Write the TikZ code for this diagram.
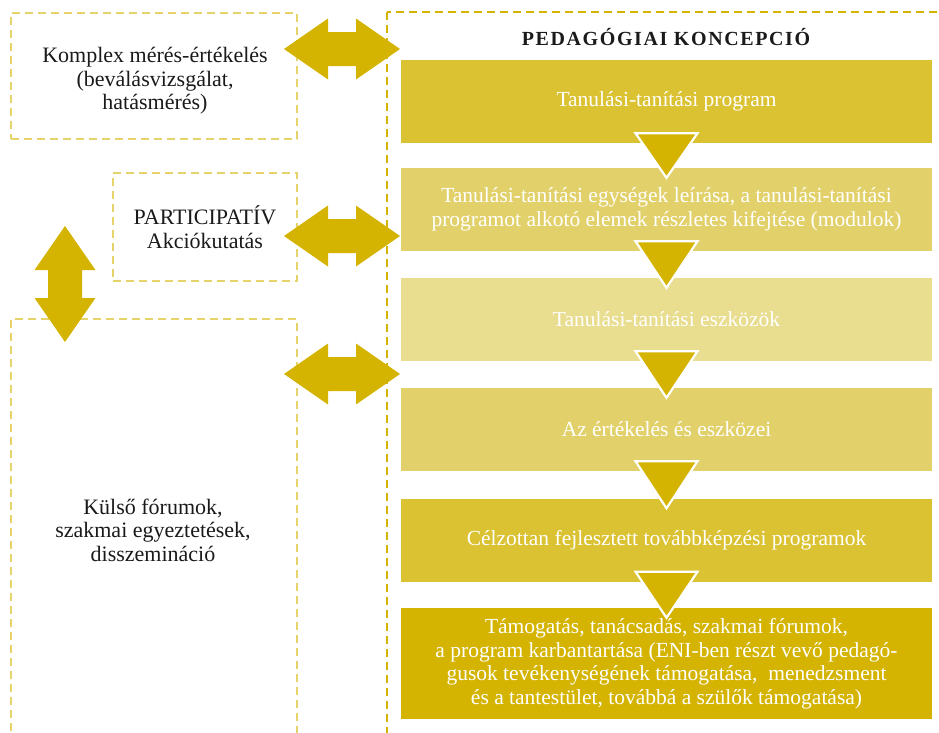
\documentclass[tikz,border=0pt]{standalone}
\usepackage{fontspec}
\setmainfont{Liberation Serif}
\usetikzlibrary{calc}
\definecolor{gold}{HTML}{D4B400}
\definecolor{lightdash}{HTML}{E6D36C}
\definecolor{cA}{HTML}{DBC232}
\definecolor{cB}{HTML}{E2D16A}
\definecolor{cC}{HTML}{E9DD8F}
\definecolor{ink}{HTML}{1A1A1A}
\begin{document}
\begin{tikzpicture}[x=1pt,y=-1pt,
  every node/.style={font=\fontsize{21.5}{23.5}\selectfont, align=center, inner sep=0pt},
  lbox/.style={draw=lightdash, line width=2.5pt, dash pattern=on 8pt off 5pt},
  bigbox/.style={draw=gold, line width=2.5pt, dash pattern=on 8pt off 5pt},
  stepbox/.style={fill=#1, minimum width=531pt, minimum height=83pt, text=white},
  ltext/.style={text=ink, font=\fontsize{22}{23.5}\selectfont},
  tri/.style={fill=gold, draw=white, line width=2.2pt, line join=miter},
  harrow/.pic={\fill[gold] (-58,0) -- (-14,-30.5) -- (-14,-17) -- (14,-17) -- (14,-30.5)
     -- (58,0) -- (14,30.5) -- (14,17) -- (-14,17) -- (-14,30.5) -- cycle;}
]
\useasboundingbox (0,0) rectangle (939,732);
\begin{scope}
\clip (0,0) rectangle (939,732);
% dashed frames
\draw[bigbox] (387,12) rectangle (970,770);
\node[lbox, minimum width=286pt, minimum height=126pt] (kbox) at (154,76) {};
\node[ltext] (ktext0) at (155,81) {Komplex mérés-értékelés\\(beválásvizsgálat,\\hatásmérés)};
\node[lbox, ltext, minimum width=184pt, minimum height=108pt] (pbox) at (205,227)
  {PARTICIPATÍV\\Akciókutatás};
\draw[lbox] (11,770) -- (11,319) -- (297,319) -- (297,770);
\node[ltext] (ktext) at (153,530) {Külső fórumok,\\szakmai egyeztetések,\\disszemináció};
% title
\node[anchor=base, text=ink, font=\fontsize{20}{22}\selectfont\bfseries\addfontfeatures{LetterSpace=8}] (title) at (666,45) {PEDAGÓGIAI KONCEPCIÓ};
% step boxes
\node[stepbox=cA] (b1) at (666.5,101.5) {Tanulási-tanítási program};
\node[stepbox=cB] (b2) at (666.5,209.5) {Tanulási-tanítási egységek leírása, a tanulási-tanítási\\programot alkotó elemek részletes kifejtése (modulok)};
\node[stepbox=cC] (b3) at (666.5,319.5) {Tanulási-tanítási eszközök};
\node[stepbox=cB] (b4) at (666.5,429.5) {Az értékelés és eszközei};
\node[stepbox=cA] (b5) at (666.5,540) {Célzottan fejlesztett továbbképzési programok};
\node[stepbox=gold, minimum height=111pt] (b6) at (666.5,663.5) {Támogatás, tanácsadás, szakmai fórumok,\\a program karbantartása (ENI-ben részt vevő pedagó-\\gusok tevékenységének támogatása,\ \ menedzsment\\és a tantestület, továbbá a szülők támogatása)};
% triangles between boxes
\foreach \a/\b in {b1/b2,b2/b3,b3/b4,b4/b5,b5/b6}{
  \draw[tri] ($(\a.south)+(-31,-10)$) -- ($(\a.south)+(31,-10)$) -- ($(\b.north)+(0,10)$) -- cycle;
}
% double arrows
\pic at (342,49) {harrow};
\pic at (342,236) {harrow};
\pic at (342,374) {harrow};
\pic[rotate=90] at (65,284) {harrow};
\end{scope}
\end{tikzpicture}
\end{document}
